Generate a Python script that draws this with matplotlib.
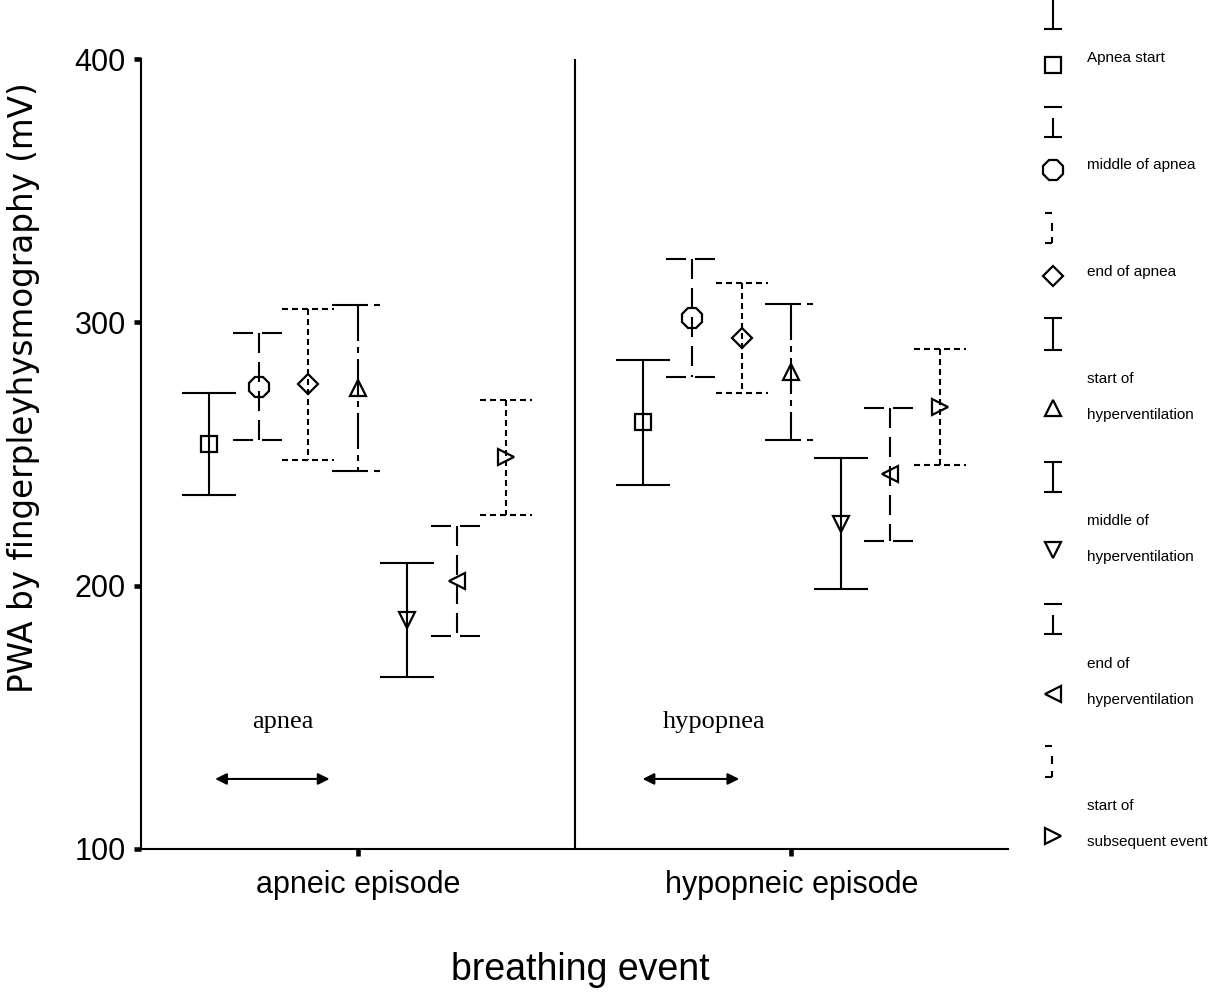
import numpy as np
import matplotlib
matplotlib.use("Agg")
import matplotlib.pyplot as plt

plt.rcParams['font.family'] = ['Liberation Sans', 'DejaVu Sans']
plt.rcParams['lines.scale_dashes'] = False

# ---------------- data ----------------
groups = ["apneic episode", "hypopneic episode"]
phases = ["Apnea start", "middle of apnea", "end of apnea",
          "start of\nhyperventilation", "middle of\nhyperventilation",
          "end of\nhyperventilation", "start of\nsubsequent event"]
apneic_mean = [253.8, 275.6, 276.4, 275.0, 187.0, 201.8, 248.7]
apneic_err = [19.4, 20.3, 28.7, 31.6, 21.7, 20.9, 21.8]
hypopneic_mean = [262.0, 301.8, 294.0, 281.1, 223.6, 242.3, 267.9]
hypopneic_err = [23.7, 22.4, 20.8, 25.9, 25.0, 25.3, 22.0]
yticks = [100, 200, 300, 400]

# ---------------- styles ----------------
PX = 0.72  # points per pixel at dpi 100
long_dash = (0, (20 * PX, 9 * PX))
short_dash = (0, (6 * PX, 4 * PX))
long_short = (0, (36 * PX, 6 * PX, 6 * PX, 6 * PX))
styles = ['-', long_dash, short_dash, long_short, '-', long_dash, short_dash]
markers = ['s', '8', 'D', '^', 'v', '<', '>']
msizes = [11.5, 15, 10, 11.5, 11.5, 11.5, 11.5]
LW = 1.5

fig = plt.figure(figsize=(12.2, 9.92), dpi=100)
ax = fig.add_axes([141 / 1220, 1 - 849 / 992, (1008 - 141) / 1220, (849 - 59) / 992])

offsets = (np.arange(len(phases)) - 3) * 0.1143
capw = 0.06
group_x = np.arange(1, len(groups) + 1)
for gi, (means, errs) in enumerate([(apneic_mean, apneic_err), (hypopneic_mean, hypopneic_err)]):
    for i in range(len(phases)):
        x = group_x[gi] + offsets[i]
        m, e = means[i], errs[i]
        ax.plot([x, x], [m + e, m - e], color='black', lw=LW, linestyle=styles[i], zorder=2)
        for yy in (m + e, m - e):
            ax.plot([x - capw, x + capw], [yy, yy], color='black', lw=LW,
                    linestyle=styles[i], zorder=2)
        ax.plot([x], [m], marker=markers[i], ms=msizes[i], mfc='none', mec='black',
                mew=1.6, linestyle='none', zorder=3)

ax.axvline(1.5, color='black', lw=LW)

ax.set_xlim(0.5, 2.5)
ax.set_ylim(100, 400)
ax.set_yticks(yticks)
ax.set_xticks(group_x)
ax.set_xticklabels(groups)
for s in ['top', 'right']:
    ax.spines[s].set_visible(False)
for s in ['left', 'bottom']:
    ax.spines[s].set_linewidth(LW)
ax.tick_params(axis='both', direction='out', length=5, width=3.3, labelsize=22)
ax.tick_params(axis='y', pad=6)
ax.tick_params(axis='x', pad=10)

# annotations
ax.text(0.828, 148.2, "apnea", family='Liberation Serif', fontsize=19, ha='center', va='center')
ax.text(1.821, 148.2, "hypopnea", family='Liberation Serif', fontsize=19, ha='center', va='center')
arrow_kw = dict(arrowstyle='<|-|>', lw=1.5, color='black', mutation_scale=17, shrinkA=0, shrinkB=0)
ax.annotate('', xy=(0.671, 126.6), xytext=(0.935, 126.6), arrowprops=arrow_kw)
ax.annotate('', xy=(1.657, 126.6), xytext=(1.880, 126.6), arrowprops=arrow_kw)

# axis titles
fig.text(24 / 1220, 1 - 388 / 992, "PWA by fingerpleyhysmography (mV)", rotation=90,
         ha='center', va='center', fontsize=23.5, family=['DejaVu Sans'])
fig.text(580 / 1220, 1 - 970 / 992, "breathing event", ha='center', va='center', fontsize=27)

# ---------------- legend (custom, pixel layout) ----------------
lax = fig.add_axes([0, 0, 1, 1], facecolor='none')
lax.set_xlim(0, 1220)
lax.set_ylim(992, 0)
lax.axis('off')

def seg(x0, y0, x1, y1):
    lax.plot([x0, x1], [y0, y1], color='black', lw=LW, solid_capstyle='butt')

def ibar(x, top, bot):
    seg(x, top, x, bot)
    seg(x - 9, top, x + 9, top)
    seg(x - 9, bot, x + 9, bot)

def long_icon(x, top, bot):
    seg(x - 9, top, x + 9, top)
    seg(x, top + 11, x, bot)
    seg(x - 9, bot, x + 9, bot)

def short_icon(x, top, bot):
    seg(x - 8, top, x - 1, top)
    seg(x - 1, top + 10, x - 1, top + 18)
    seg(x - 8, bot, x - 1, bot)
    seg(x - 1, bot - 6, x - 1, bot)

LX = 1053
seg(LX, -3, LX, 29)
seg(LX - 9, 29, LX + 9, 29)
long_icon(LX, 107, 137)
short_icon(LX, 213, 243)
ibar(LX, 318, 350)
ibar(LX, 462, 492)
long_icon(LX, 604, 634)
short_icon(LX, 746, 777)

leg_marker_y = [65, 170, 276, 408, 550, 694, 836]
label_y = [[58], [165], [272], [379, 415], [521, 557], [664, 700], [806, 842]]
for i, name in enumerate(phases):
    lax.plot([LX], [leg_marker_y[i]], marker=markers[i], ms=msizes[i], mfc='none',
             mec='black', mew=1.6, linestyle='none')
    for line, yy in zip(name.split("\n"), label_y[i]):
        lax.text(1087, yy, line, fontsize=11, ha='left', va='center')

fig.savefig("out.png", dpi=100)
